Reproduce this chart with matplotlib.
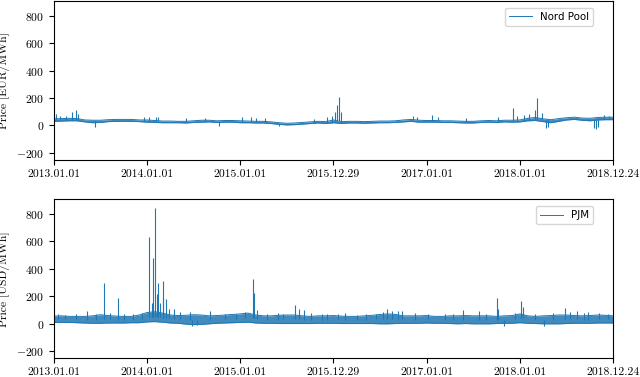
import numpy as np
import matplotlib
matplotlib.use('Agg')
import matplotlib.pyplot as plt

# 月次インデックス (2013.01 = 0 ... 2019.01 = 72)
months = np.arange(73)

# Nord Pool: 月ごとの価格帯 (下限・上限) [EUR/MWh]
np_low = [30, 32, 34, 34, 26, 20, 22, 28, 30, 30, 30, 28,
          24, 22, 20, 20, 20, 18, 22, 24, 26, 22, 24, 24,
          20, 20, 18, 18, 14, 8, 4, 6, 10, 14, 18, 14,
          20, 14, 18, 18, 16, 18, 20, 20, 22, 26, 30, 24,
          24, 24, 22, 22, 20, 18, 18, 22, 24, 22, 26, 24,
          26, 34, 36, 28, 20, 30, 40, 44, 38, 34, 40, 42, 42]
np_high = [48, 50, 52, 50, 40, 38, 38, 42, 44, 44, 44, 40,
           40, 36, 32, 32, 30, 30, 34, 38, 38, 34, 36, 36,
           34, 32, 30, 30, 26, 20, 16, 18, 22, 26, 30, 28,
           40, 28, 30, 30, 28, 30, 32, 32, 34, 40, 44, 38,
           36, 36, 34, 34, 32, 30, 30, 34, 36, 34, 38, 38,
           40, 52, 58, 48, 42, 50, 56, 60, 54, 52, 58, 60, 60]

# Nord Pool: スパイク (月位置, 価格)
np_spike_x = [0.3, 0.8, 1.6, 2.3, 2.8, 3.1, 5.3, 11.6, 12.3, 13.1, 13.4,
              17.0, 19.5, 21.3, 24.2, 25.4, 26.0, 27.2, 29.0, 33.5, 35.2,
              35.8, 36.2, 36.5, 36.7, 37.0, 46.2, 46.8, 48.7, 49.5, 53.0,
              57.2, 59.1, 59.6, 60.5, 61.2, 62.0, 62.2, 62.8, 63.3, 63.6,
              69.6, 69.8, 70.0, 70.8, 71.5]
np_spike_y = [85, 70, 72, 95, 110, 80, -10, 60, 62, 58, 60,
              55, 52, -5, 62, 58, 55, 52, -5, 48, 60,
              72, 100, 150, 205, 95, 72, 60, 76, 62, 55,
              58, 125, 70, 78, 85, 110, 200, 90, -15, -10,
              -20, -25, -10, 78, 72]

# PJM: 月ごとの価格帯 (下限・上限) [USD/MWh]
pjm_low = [10, 10, 10, 8, 6, 4, 4, 6, 6, 6, 8, 8,
           14, 16, 12, 6, 4, -2, -6, -4, 0, 4, 6, 8,
           10, 12, 6, 4, 4, 2, 2, 2, 2, 2, 4, 4,
           4, 2, 2, 2, 2, 2, 0, 0, 2, 4, 4, 4,
           6, 4, 4, 2, 0, 2, 0, 0, 0, 2, 4, 4,
           8, 4, 2, 0, 0, 0, 2, 4, 4, 4, 6, 6, 6]
pjm_high = [56, 58, 54, 54, 54, 58, 66, 60, 56, 54, 54, 64,
            82, 88, 78, 64, 60, 62, 66, 64, 58, 60, 64, 68,
            72, 78, 64, 58, 58, 62, 64, 64, 58, 54, 58, 58,
            60, 56, 54, 54, 58, 62, 68, 72, 68, 58, 58, 58,
            60, 54, 54, 58, 58, 60, 58, 58, 58, 54, 58, 60,
            72, 58, 54, 58, 60, 64, 64, 60, 58, 60, 64, 62, 58]

# PJM: スパイク (月位置, 価格)
pjm_spike_x = [0.5, 1.4, 2.8, 4.3, 5.4, 6.5, 7.3, 8.3, 9.1, 10.2, 11.3,
               12.2, 12.6, 12.8, 13.0, 13.3, 13.4, 13.7, 14.0, 14.1, 14.4,
               14.8, 15.5, 16.3, 17.5, 17.8, 18.4, 20.1, 22.0, 23.4, 24.6,
               25.7, 25.8, 26.2, 27.4, 28.8, 29.5, 31.0, 31.6, 32.2, 33.1,
               34.5, 35.2, 36.6, 37.5, 39.0, 40.2, 41.5, 42.4, 42.9, 43.6,
               44.3, 44.8, 46.5, 48.2, 50.3, 51.4, 52.7, 54.7, 55.6, 57.0,
               57.2, 58.0, 59.4, 60.2, 60.4, 62.0, 63.1, 64.3, 65.8, 66.5,
               67.4, 68.2, 68.8, 70.2, 71.3]
pjm_spike_y = [75, 65, 70, 90, 75, 300, 80, 190, 75, 70, 80,
               630, 150, 480, 840, 220, 300, 150, 185, 310, 180,
               110, 110, 85, 85, -15, -10, 90, 70, 75, 85,
               325, 225, 100, 75, 80, 75, 140, 105, 100, 80,
               70, 75, 70, 80, 65, 70, 75, 85, 110, 90,
               95, 90, 80, 70, 75, 70, 100, 90, 75, 185,
               110, -15, 80, 165, 120, 75, -15, 80, 115, 85,
               90, 80, 85, 80, 75]

series = [
    ('Nord Pool', 'Price [EUR/MWh]', np_low, np_high, np_spike_x, np_spike_y),
    ('PJM', 'Price [USD/MWh]', pjm_low, pjm_high, pjm_spike_x, pjm_spike_y),
]

tick_labels = ['2013.01.01', '2014.01.01', '2015.01.01', '2015.12.29',
               '2017.01.01', '2018.01.01', '2018.12.24']

# フォント設定 (Computer Modern 風)
plt.rcParams['font.family'] = 'serif'
plt.rcParams['font.serif'] = ['cmr10']
plt.rcParams['mathtext.fontset'] = 'cm'
plt.rcParams['axes.formatter.use_mathtext'] = True
plt.rcParams['font.size'] = 8.4

fig, axes = plt.subplots(2, 1, figsize=(6.4, 3.77), dpi=100)
fig.subplots_adjust(left=0.084, right=0.958, top=0.997, bottom=0.05,
                    hspace=0.25)

color = '#1f77b4'
for ax, (name, ylabel, low, high, sx, sy) in zip(axes, series):
    ax.fill_between(months, low, high, color=color, alpha=0.85, lw=0)
    ax.plot(months, high, color=color, lw=0.7, label=name)
    ax.plot(months, low, color=color, lw=0.7)
    base = [(low[int(x)] + high[int(x)]) / 2 for x in sx]
    ax.vlines(sx, base, sy, color=color, lw=0.8)

    ax.set_xlim(0, 72)
    ax.set_ylim(-250, 905)
    ax.set_yticks([-200, 0, 200, 400, 600, 800])
    ax.set_xticks(np.linspace(0, 72, 7), tick_labels)
    ax.set_ylabel(ylabel)
    ax.legend(loc='upper right', bbox_to_anchor=(0.964, 0.958),
              borderaxespad=0, handlelength=2.2,
              prop={'family': 'DejaVu Sans', 'size': 7.4})

plt.savefig('out.png', format='png', dpi=100)
